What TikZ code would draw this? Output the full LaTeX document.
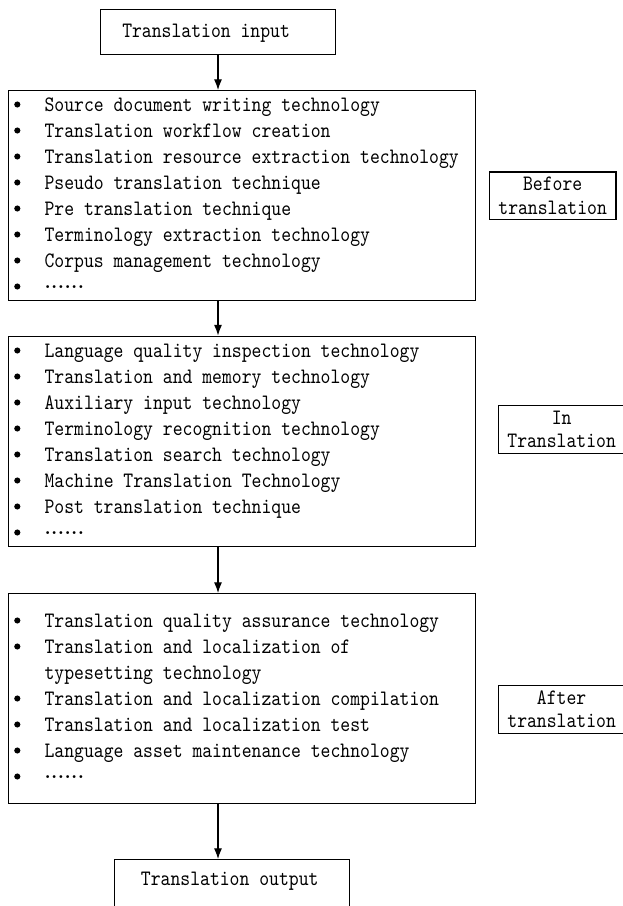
\documentclass[tikz,border=0pt]{standalone}
\usepackage{fontspec}
\newfontfamily\mono{lmmono10-regular.otf}[FakeStretch=0.854]
\usetikzlibrary{arrows.meta}
\newcommand\sixdots{\raisebox{3.6pt}{\rmfamily\bfseries\fontsize{15}{16}\selectfont .\kern.3pt.\kern.3pt.\kern.3pt.\kern.3pt.\kern.3pt.}}
\begin{document}
\begin{tikzpicture}[x=0.75pt,y=-0.75pt,
  bigbox/.style={draw, line width=0.8pt, inner sep=0pt, anchor=north west},
  txt/.style={font=\mono\fontsize{16.5}{17.6}\selectfont, inner sep=0pt, anchor=base west},
  bul/.style={circle, fill, inner sep=0pt, minimum size=4.6pt},
  arr/.style={-{Latex[length=8pt,width=6pt]}, line width=0.8pt},
  phase/.style={draw, line width=0.8pt, align=center, inner sep=0pt,
    font=\mono\fontsize{16.5}{17.55}\selectfont}]
\useasboundingbox (0,0) rectangle (622,906);
\coordinate (ax) at (218,0);
% input / output
\node[bigbox, minimum width=175.9pt, minimum height=33.75pt] (inbox) at (100,9) {};
\node[txt] (intxt) at (122,38) {Translation input};
\node[bigbox, minimum width=175.9pt, minimum height=39.75pt] (outbox) at (114,859) {};
\node[txt] (outtxt) at (140.7,885) {Translation output};
% main boxes
\node[bigbox, minimum width=350.25pt, minimum height=157.5pt] (b1) at (7.5,90) {};
\node[bigbox, minimum width=350.25pt, minimum height=157.9pt] (b2) at (7.5,335.5) {};
\node[bigbox, minimum width=350.25pt, minimum height=157.5pt] (b3) at (7.5,593) {};
% box 1 items
\foreach \t [count=\i] in {Source document writing technology,
  Translation workflow creation,
  Translation resource extraction technology,
  Pseudo translation technique,
  Pre translation technique,
  Terminology extraction technology,
  Corpus management technology,
  \sixdots}{
  \node[bul] (ba\i) at (17.3,{111+26*(\i-1)-6.5}) {};
  \node[txt] (ta\i) at (44.3,{111+26*(\i-1)}) {\t};
}
% box 2 items
\foreach \t [count=\i] in {Language quality inspection technology,
  Translation and memory technology,
  Auxiliary input technology,
  Terminology recognition technology,
  Translation search technology,
  Machine Translation Technology,
  Post translation technique,
  \sixdots}{
  \node[bul] (bb\i) at (17.3,{357+26*(\i-1)-6.5}) {};
  \node[txt] (tb\i) at (44.3,{357+26*(\i-1)}) {\t};
}
% box 3 items
\node[bul] (bc1) at (17.3,620.5) {};
\node[txt] (tc1) at (44.3,627) {Translation quality assurance technology};
\node[bul] (bc2) at (17.3,646.5) {};
\node[txt] (tc2) at (44.3,653) {Translation and localization of};
\node[txt] (tc2b) at (44.3,679) {typesetting technology};
\node[bul] (bc3) at (17.3,698.5) {};
\node[txt] (tc3) at (44.3,705) {Translation and localization compilation};
\node[bul] (bc4) at (17.3,724.5) {};
\node[txt] (tc4) at (44.3,731) {Translation and localization test};
\node[bul] (bc5) at (17.3,750.5) {};
\node[txt] (tc5) at (44.3,757) {Language asset maintenance technology};
\node[bul] (bc6) at (17.3,776.5) {};
\node[txt] (tc6) at (44.3,783) {\sixdots};
% phase labels
\node[phase, minimum width=95pt, minimum height=35.5pt] (before) at (552.65,195.65) {Before\\translation};
\node[phase, minimum width=95pt, minimum height=35.7pt] (intr) at (561.65,429.5) {In\\Translation};
\node[phase, minimum width=95pt, minimum height=35.7pt] (after) at (561.65,709.5) {After\\translation};
% arrows
\draw[arr] (inbox.south -| ax) -- (b1.north -| ax);
\draw[arr] (b1.south -| ax) -- (b2.north -| ax);
\draw[arr] (b2.south -| ax) -- (b3.north -| ax);
\draw[arr] (b3.south -| ax) -- (outbox.north -| ax);
\end{tikzpicture}
\end{document}
